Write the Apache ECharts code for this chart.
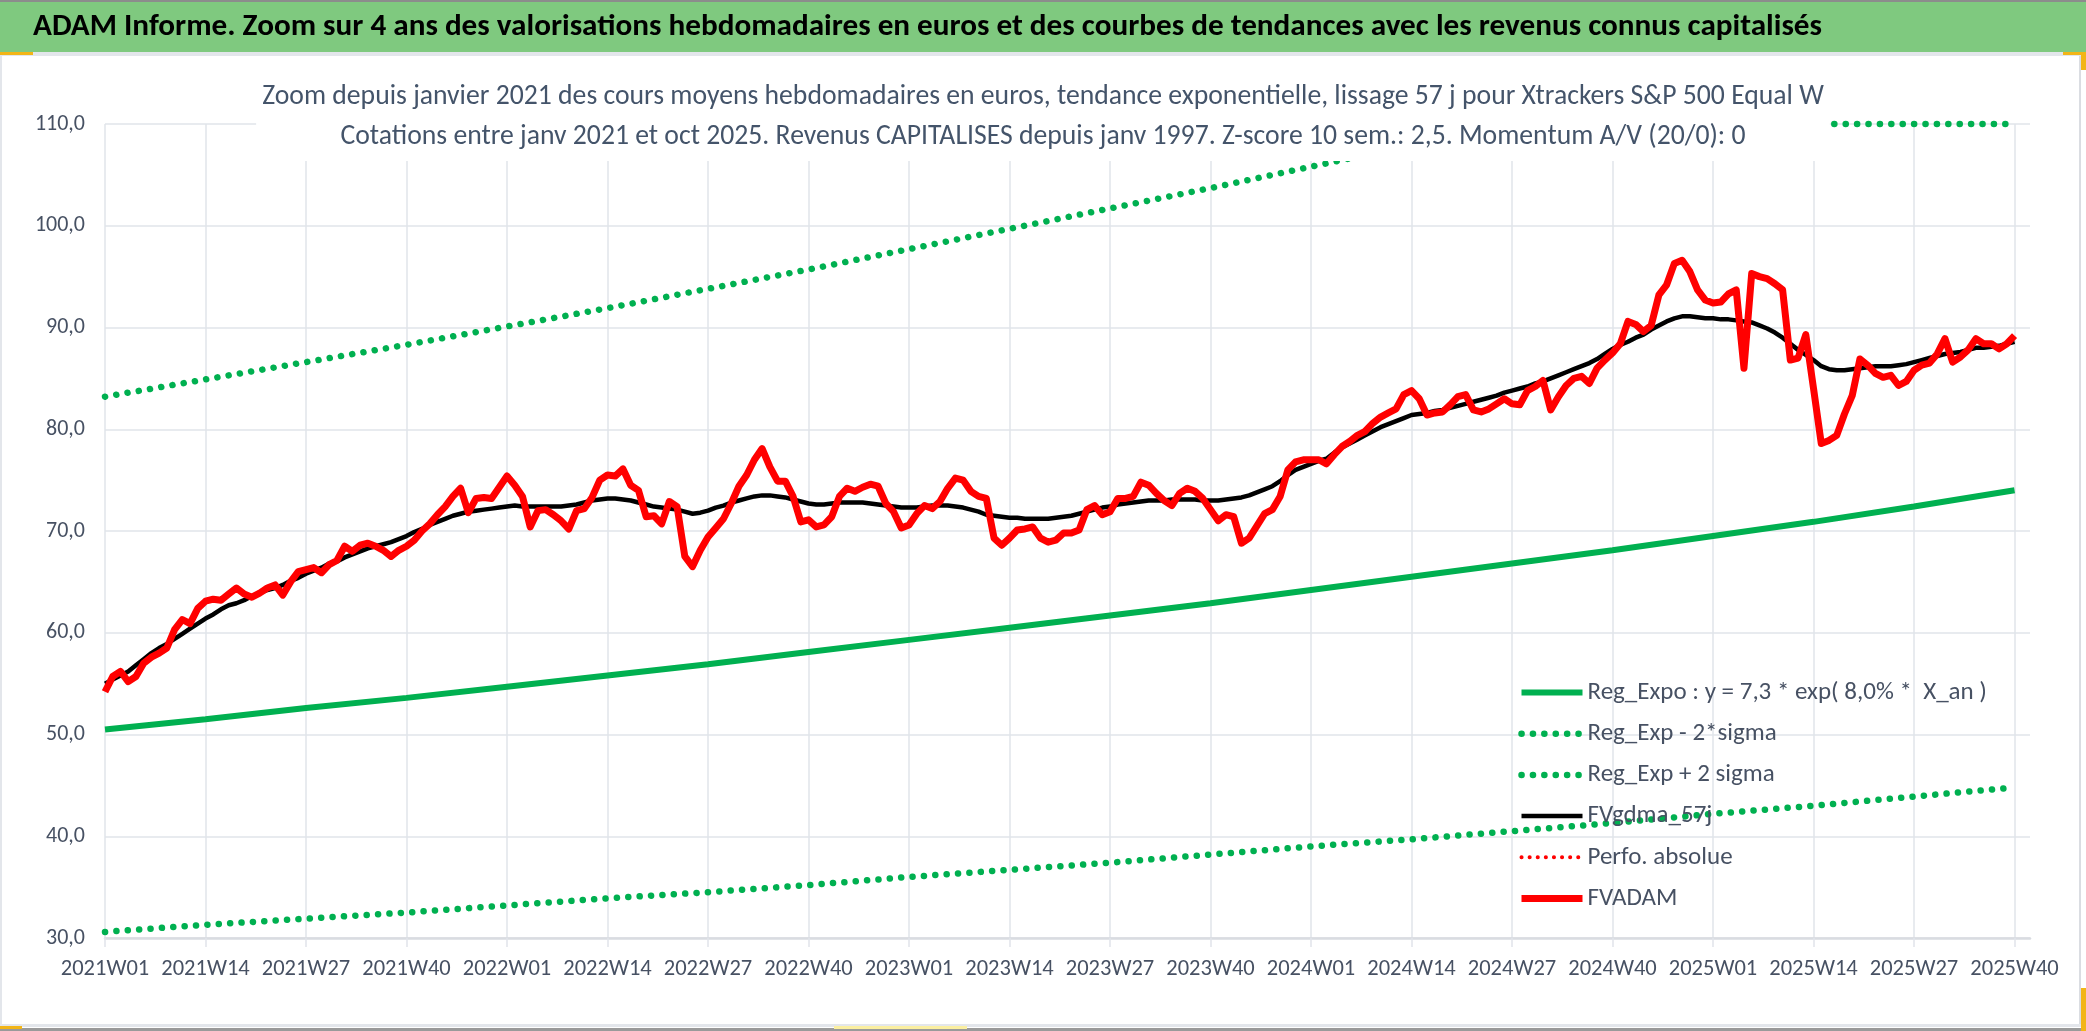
<!DOCTYPE html>
<html>
<head>
<meta charset="utf-8">
<script src="https://cdn.jsdelivr.net/npm/echarts@6/dist/echarts.min.js"></script>
<style>
  html, body { margin: 0; padding: 0; background: #fff; }
  #chart { width: 2086px; height: 1031px; }
</style>
</head>
<body>
<div id="chart"></div>
<script>
const FONT = "'Liberation Sans Narrow', 'Arial Narrow', Carlito, 'Noto Sans', sans-serif"

// weeks on the x axis
const years = [2021, 2022, 2023, 2024, 2025]
const weeksPerYear = [52, 52, 52, 52, 41]

// labelled weeks, every 13 weeks
const tickLabels = [
  '2021W01', '2021W14', '2021W27', '2021W40',
  '2022W01', '2022W14', '2022W27', '2022W40',
  '2023W01', '2023W14', '2023W27', '2023W40',
  '2024W01', '2024W14', '2024W27', '2024W40',
  '2025W01', '2025W14', '2025W27', '2025W40'
]

// trend curves read at the labelled weeks
const regExpo = [50.5, 51.5, 52.6, 53.6, 54.7, 55.8, 56.9, 58.1, 59.3, 60.5,
  61.7, 62.9, 64.2, 65.5, 66.8, 68.1, 69.5, 70.9, 72.4, 74.0]
const regMinus = [30.6, 31.3, 31.9, 32.5, 33.2, 33.9, 34.5, 35.2, 36.0, 36.7,
  37.4, 38.2, 39.0, 39.7, 40.5, 41.3, 42.2, 43.0, 43.9, 44.8]
const regPlus = [83.2, 84.9, 86.6, 88.3, 90.1, 91.9, 93.8, 95.7, 97.7, 99.7,
  101.7, 103.7, 105.8, 107.9, 110, 110, 110, 110, 110, 110]

// weekly values from 2021W01 to 2025W40
const fvadam = [
  54.2, 55.7, 56.2, 55.2, 55.7, 57.0, 57.6, 58.0, 58.5, 60.3, 61.3, 60.9, 62.4,
  63.1, 63.3, 63.2, 63.8, 64.4, 63.8, 63.5, 63.9, 64.4, 64.7, 63.7, 65.0, 66.0,
  66.2, 66.4, 65.9, 66.7, 67.1, 68.5, 68.0, 68.6, 68.8, 68.5, 68.1, 67.5, 68.1,
  68.5, 69.1, 70.0, 70.7, 71.6, 72.4, 73.4, 74.2, 71.8, 73.2, 73.3, 73.2, 74.3,
  75.4, 74.5, 73.4, 70.4, 72.0, 72.1, 71.6, 71.0, 70.2, 72.0, 72.2, 73.3, 75.0,
  75.5, 75.4, 76.1, 74.5, 74.0, 71.4, 71.5, 70.7, 72.9, 72.4, 67.5, 66.5, 68.1,
  69.4, 70.3, 71.2, 72.7, 74.4, 75.5, 77.0, 78.1, 76.3, 74.9, 74.9, 73.4, 70.9,
  71.1, 70.4, 70.6, 71.4, 73.4, 74.2, 73.9, 74.3, 74.6, 74.4, 72.7, 71.9, 70.3,
  70.6, 71.7, 72.5, 72.2, 72.9, 74.2, 75.2, 75.0, 73.9, 73.4, 73.2, 69.3, 68.6,
  69.3, 70.1, 70.2, 70.4, 69.3, 68.9, 69.1, 69.8, 69.8, 70.1, 72.1, 72.5, 71.6,
  71.9, 73.2, 73.2, 73.4, 74.8, 74.5, 73.7, 73.0, 72.5, 73.7, 74.2, 73.9, 73.2,
  72.1, 71.0, 71.6, 71.4, 68.8, 69.3, 70.5, 71.7, 72.1, 73.4, 76.0, 76.8, 77.0,
  77.0, 77.0, 76.6, 77.5, 78.3, 78.8, 79.4, 79.8, 80.6, 81.2, 81.6, 82.0, 83.4,
  83.8, 83.0, 81.4, 81.6, 81.7, 82.4, 83.2, 83.4, 81.9, 81.7, 82.0, 82.5, 83.0,
  82.5, 82.4, 83.8, 84.2, 84.8, 81.9, 83.2, 84.3, 85.0, 85.2, 84.5, 86.0, 86.8,
  87.5, 88.4, 90.6, 90.3, 89.6, 90.2, 93.2, 94.2, 96.3, 96.6, 95.5, 93.7, 92.7,
  92.4, 92.5, 93.3, 93.7, 86.0, 95.3, 95.0, 94.8, 94.3, 93.7, 86.8, 87.0, 89.3,
  84.0, 78.6, 78.9, 79.4, 81.5, 83.3, 86.9, 86.3, 85.5, 85.1, 85.3, 84.3, 84.7,
  85.8, 86.3, 86.5, 87.4, 88.9, 86.6, 87.1, 87.8, 88.9, 88.4, 88.4, 87.9, 88.4,
  89.2
]
const fvgdma = [
  55.0, 55.4, 55.8, 56.2, 56.8, 57.4, 58.0, 58.5, 58.9, 59.4, 59.9, 60.4, 60.9,
  61.4, 61.8, 62.3, 62.7, 62.9, 63.2, 63.6, 63.9, 64.2, 64.4, 64.7, 65.1, 65.4,
  65.8, 66.1, 66.4, 66.8, 67.0, 67.4, 67.7, 68.0, 68.3, 68.5, 68.7, 68.9, 69.2,
  69.5, 69.9, 70.2, 70.6, 70.9, 71.2, 71.5, 71.7, 71.9, 72.0, 72.1, 72.2, 72.3,
  72.4, 72.5, 72.4, 72.4, 72.4, 72.4, 72.4, 72.4, 72.5, 72.6, 72.8, 73.0, 73.1,
  73.2, 73.2, 73.1, 73.0, 72.8, 72.6, 72.4, 72.3, 72.2, 72.1, 71.9, 71.7, 71.8,
  72.0, 72.3, 72.5, 72.8, 73.0, 73.2, 73.4, 73.5, 73.5, 73.4, 73.3, 73.1, 72.9,
  72.7, 72.6, 72.6, 72.7, 72.8, 72.8, 72.8, 72.8, 72.7, 72.6, 72.5, 72.4, 72.3,
  72.3, 72.3, 72.4, 72.5, 72.5, 72.5, 72.4, 72.3, 72.1, 71.9, 71.6, 71.5, 71.4,
  71.3, 71.3, 71.2, 71.2, 71.2, 71.2, 71.3, 71.4, 71.5, 71.7, 71.9, 72.1, 72.3,
  72.4, 72.6, 72.7, 72.8, 72.9, 73.0, 73.0, 73.0, 73.1, 73.1, 73.1, 73.1, 73.0,
  73.0, 73.0, 73.1, 73.2, 73.3, 73.5, 73.8, 74.1, 74.4, 74.9, 75.5, 76.0, 76.3,
  76.6, 76.9, 77.1, 77.7, 78.2, 78.6, 79.0, 79.4, 79.8, 80.2, 80.5, 80.8, 81.1,
  81.4, 81.5, 81.6, 81.8, 81.9, 82.1, 82.3, 82.5, 82.7, 82.9, 83.1, 83.3, 83.6,
  83.8, 84.0, 84.2, 84.5, 84.7, 85.0, 85.3, 85.6, 85.9, 86.2, 86.5, 86.9, 87.4,
  87.9, 88.3, 88.6, 89.0, 89.3, 89.8, 90.2, 90.6, 90.9, 91.1, 91.1, 91.0, 90.9,
  90.9, 90.8, 90.8, 90.7, 90.6, 90.5, 90.2, 89.9, 89.5, 89.0, 88.4, 87.8, 87.3,
  86.8, 86.2, 85.9, 85.8, 85.8, 85.9, 86.0, 86.1, 86.2, 86.2, 86.2, 86.3, 86.4,
  86.6, 86.8, 87.0, 87.2, 87.4, 87.5, 87.6, 87.8, 88.0, 88.0, 88.1, 88.2, 88.4,
  88.6
]

const weeks = []
years.forEach((y, k) => {
  for (let w = 1; w <= weeksPerYear[k]; w++) {
    weeks.push(y + 'W' + (w < 10 ? '0' + w : w))
  }
})

const atTicks = vals => tickLabels.map((t, k) => [t, vals[k]])

const green = '#00B050'
const red = '#FF0000'
const textGrey = '#475163'
const gridGrey = '#E1E4EA'
const handle = '#F2B517'
const dotted = (color, width, gap) => ({ color, width, type: [0.1, gap], cap: 'round' })

const rect = (x, y, width, height, fill) =>
  ({ type: 'rect', shape: { x, y, width, height }, style: { fill }, z: -10, silent: true })

const option = {
  animation: false,
  backgroundColor: '#fff',
  graphic: [
    // title band and frame of the selected chart
    rect(0, 0, 2086, 52, '#7FC97F'),
    rect(0, 0, 2086, 2, '#8C8C8C'),
    rect(0, 52, 2086, 4, '#E3E6EB'),
    rect(0, 56, 2, 970, '#E3E6EB'),
    rect(2079, 56, 2, 970, '#DADDE2'),
    rect(0, 1024, 2086, 3, '#E3E6EB'),
    rect(0, 1028, 2086, 3, '#9A9A9A'),
    rect(0, 52, 33, 3, handle),
    rect(2063, 52, 23, 3, handle),
    rect(2081, 52, 5, 18, handle),
    rect(0, 1026, 22, 3, handle),
    rect(834, 1026, 133, 3, '#FBEFA0'),
    rect(2081, 988, 5, 43, handle)
  ],
  title: [
    {
      text: 'ADAM Informe. Zoom sur 4 ans des valorisations hebdomadaires en euros et des courbes de tendances avec les revenus connus capitalisés',
      left: 28, top: 4,
      textStyle: { fontFamily: FONT, fontSize: 31.2, fontWeight: 'bold', color: '#000', lineHeight: 36 }
    },
    {
      text: 'Zoom depuis janvier 2021 des cours moyens hebdomadaires en euros, tendance exponentielle, lissage 57 j pour Xtrackers S&P 500 Equal W\nCotations entre janv 2021 et oct 2025. Revenus CAPITALISES depuis janv 1997. Z-score 10 sem.: 2,5. Momentum A/V (20/0): 0',
      left: 'center', top: 73,
      backgroundColor: '#fff', padding: [4, 6],
      textStyle: { fontFamily: FONT, fontSize: 27.7, fontWeight: 'normal', color: '#44546A', lineHeight: 40 }
    }
  ],
  legend: {
    orient: 'vertical', left: 1518, top: 680, padding: 0,
    itemWidth: 61, itemHeight: 14, itemGap: 16.2,
    itemStyle: { opacity: 0 },
    lineStyle: { width: 'inherit', type: 'inherit', cap: 'inherit' },
    textStyle: { fontFamily: FONT, fontSize: 25, lineHeight: 24, color: textGrey },
    data: ['Reg_Expo : y = 7,3 * exp( 8,0% *  X_an )', 'Reg_Exp - 2*sigma', 'Reg_Exp + 2 sigma',
      'FVgdma_57j', 'Perfo. absolue', 'FVADAM']
  },
  grid: { left: 105, right: 56, top: 124, bottom: 93 },
  xAxis: {
    type: 'category', data: weeks.concat(['2025W41']), boundaryGap: false,
    axisLine: { lineStyle: { color: '#D9DCE1', width: 2.5 } },
    axisTick: { interval: 12, length: 9, lineStyle: { color: gridGrey, width: 1.5 } },
    axisLabel: { interval: 12, margin: 20, fontFamily: FONT, fontSize: 22.5, color: textGrey },
    splitLine: { show: true, interval: 12, lineStyle: { color: gridGrey, width: 1.5 } }
  },
  yAxis: {
    type: 'value', min: 30, max: 110, interval: 10,
    axisLine: { show: false }, axisTick: { show: false },
    axisLabel: { margin: 20, fontFamily: FONT, fontSize: 22, color: textGrey,
      formatter: v => v.toFixed(1).replace('.', ',') },
    splitLine: { lineStyle: { color: gridGrey, width: 1.5 } }
  },
  series: [
    { name: 'Reg_Expo : y = 7,3 * exp( 8,0% *  X_an )', type: 'line', symbol: 'none',
      data: atTicks(regExpo), itemStyle: { color: green }, lineStyle: { color: green, width: 6 } },
    { name: 'Reg_Exp - 2*sigma', type: 'line', symbol: 'none', clip: false,
      data: atTicks(regMinus), itemStyle: { color: green }, lineStyle: dotted(green, 6.5, 11.3) },
    { name: 'Reg_Exp + 2 sigma', type: 'line', symbol: 'none', clip: false,
      data: atTicks(regPlus), itemStyle: { color: green }, lineStyle: dotted(green, 6.5, 11.3) },
    { name: 'FVgdma_57j', type: 'line', symbol: 'none',
      data: fvgdma, itemStyle: { color: '#000' }, lineStyle: { color: '#000', width: 4.5, join: 'round' } },
    { name: 'Perfo. absolue', type: 'line', symbol: 'none',
      data: [], itemStyle: { color: red }, lineStyle: dotted(red, 4, 8) },
    { name: 'FVADAM', type: 'line', symbol: 'none',
      data: fvadam, itemStyle: { color: red }, lineStyle: { color: red, width: 7, join: 'round' } }
  ]
}

const myChart = echarts.init(document.getElementById('chart'))
myChart.setOption(option)
</script>
</body>
</html>
